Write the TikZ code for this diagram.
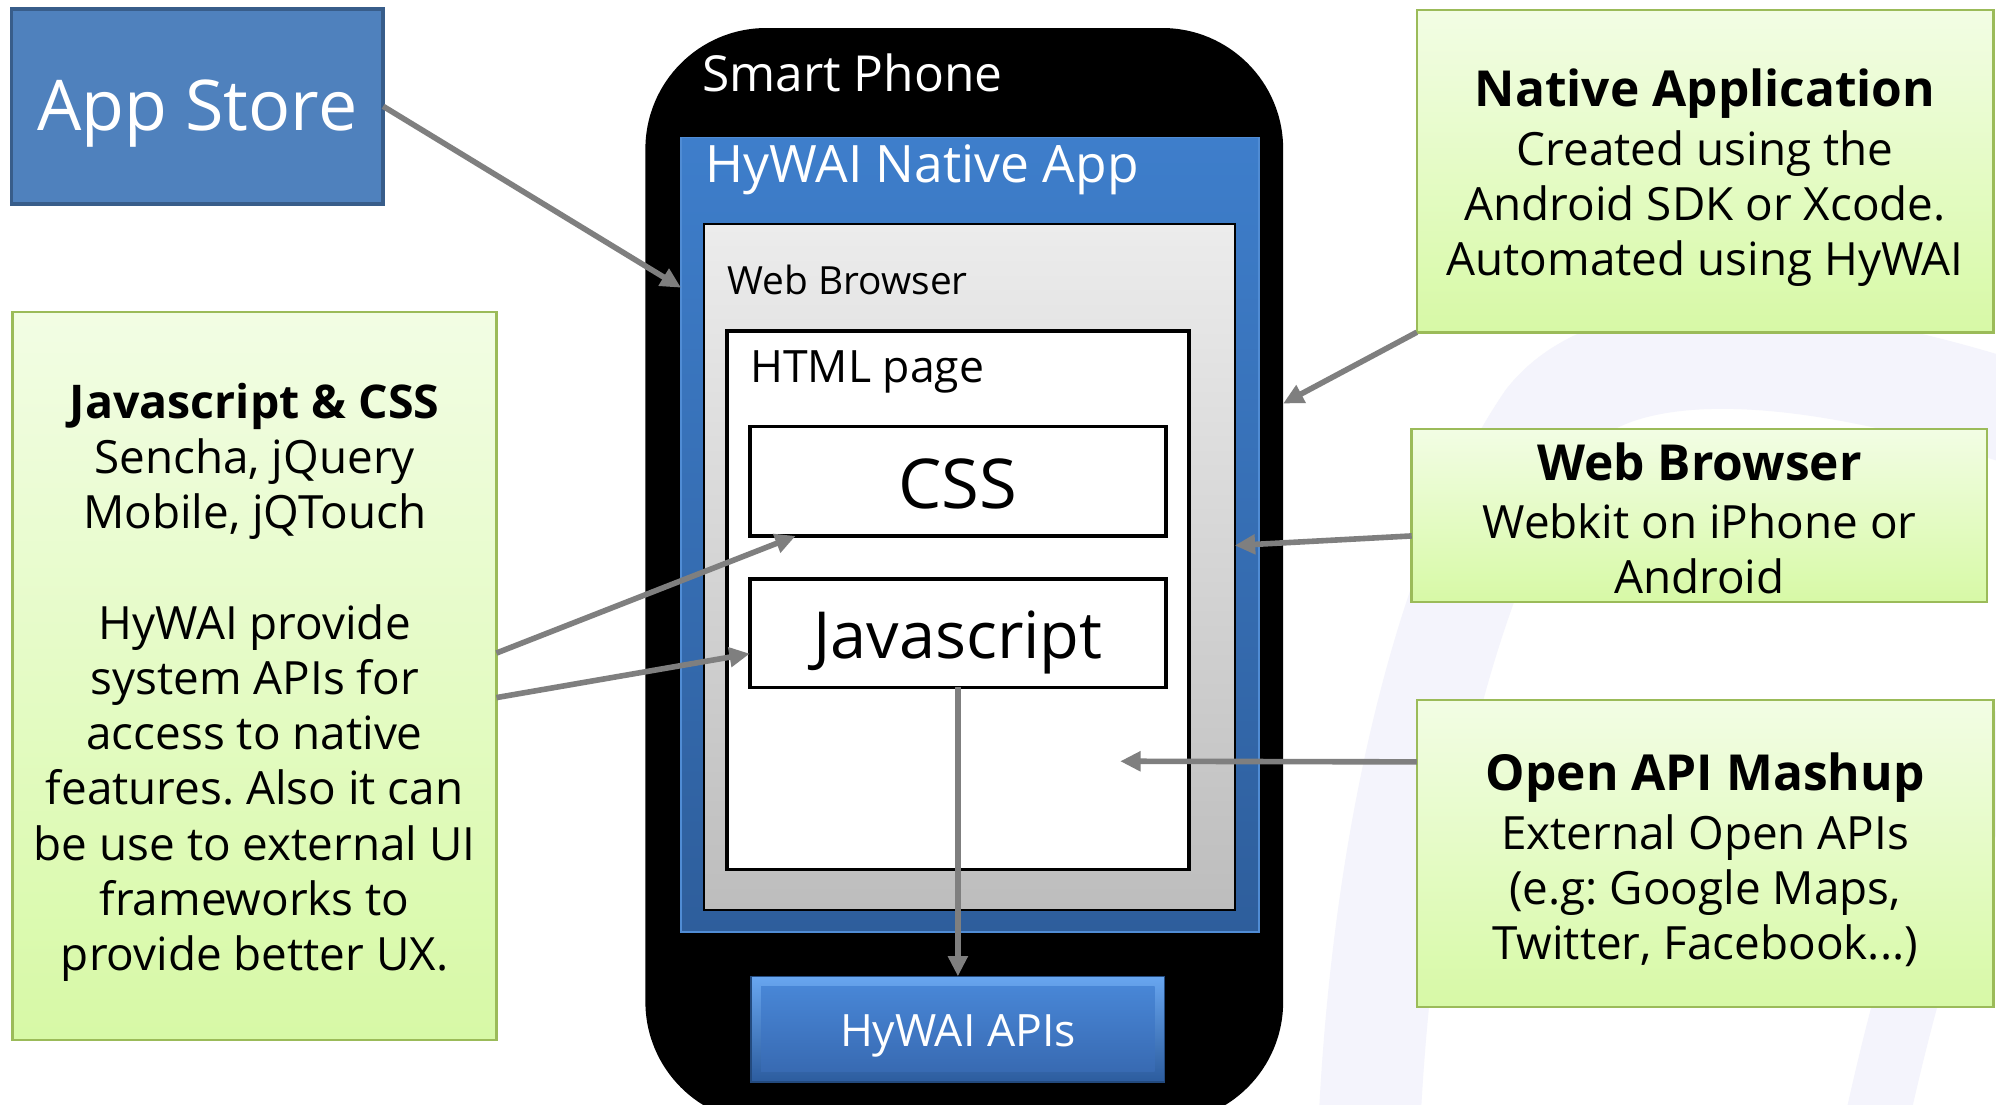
\documentclass[tikz,border=0pt]{standalone}
\usepackage{fontspec}
\setmainfont{Open Sans}
\usetikzlibrary{arrows.meta}
\frenchspacing

\definecolor{storefill}{RGB}{79,129,189}
\definecolor{storeline}{RGB}{56,93,138}
\definecolor{apptop}{RGB}{62,126,203}
\definecolor{appbot}{RGB}{46,94,156}
\definecolor{appline}{RGB}{80,140,212}
\definecolor{greentop}{RGB}{242,253,228}
\definecolor{greenbot}{RGB}{215,249,166}
\definecolor{greenline}{RGB}{155,187,89}
\definecolor{browsertop}{RGB}{236,236,236}
\definecolor{browserbot}{RGB}{189,189,189}
\definecolor{arrowgray}{RGB}{127,127,127}
\definecolor{wmark}{RGB}{244,244,252}
\definecolor{apitop}{RGB}{104,166,240}
\definecolor{apibot}{RGB}{44,92,158}
\definecolor{apiinnertop}{RGB}{72,134,214}
\definecolor{apiinnerbot}{RGB}{56,106,178}

\tikzset{
  box/.style={anchor=north west, inner sep=0pt, outer sep=0pt},
  greenbox/.style={box, top color=greentop, bottom color=greenbot,
    draw=greenline, line width=2pt},
  notes/.style={align=center, inner sep=0pt, font=\fontsize{36}{43.4}\selectfont},
  whitebox/.style={box, fill=white, draw=black, line width=3pt},
  link/.style={draw=arrowgray, line width=4.4pt,
    -{Triangle[length=16pt,width=15pt]}},
  wm/.style={draw=wmark, line cap=round},
}

\begin{document}
\begin{tikzpicture}[x=1pt,y=-1pt]
\useasboundingbox[fill=white] (0,0) rectangle (1568,868);

% faint background logo
\draw[wm, line width=80pt] (1600,330) .. controls (1420,270) and (1270,260) .. (1215,330)
  .. controls (1140,440) and (1085,650) .. (1075,900);
\draw[wm, line width=50pt] (1600,560) .. controls (1540,620) and (1500,760) .. (1470,900);

% App Store
\node[box, fill=storefill, draw=storeline, line width=3pt,
      minimum width=292pt, minimum height=153pt] (store) at (9,7) {};
\node[text=white, font=\fontsize{55}{60}\selectfont, inner sep=0pt]
      (storelabel) at ([yshift=-6pt]store.center) {App Store};

% phone body
\node[box, fill=black, rounded corners=95pt,
      minimum width=501pt, minimum height=860pt] (phone) at (507,22) {};
\node[anchor=west, text=white, font=\fontsize{39}{44}\selectfont] (phonelabel) at (548,57) {Smart Phone};

% native app container
\node[box, top color=apptop, bottom color=appbot, draw=appline, line width=1.5pt,
      minimum width=454pt, minimum height=624pt] (native) at (535,108) {};
\node[anchor=west, text=white, font=\fontsize{40.5}{45}\selectfont] (nativelabel) at (551,133) {HyWAI Native App};

% web browser
\node[box, top color=browsertop, bottom color=browserbot, draw=black, line width=2pt,
      minimum width=417pt, minimum height=539pt] (browser) at (553,176) {};
\node[anchor=west, font=\fontsize{30.5}{36}\selectfont] (browserlabel) at (568,220) {Web Browser};

% html page
\node[whitebox, minimum width=363pt, minimum height=423pt] (html) at (571,260) {};
\node[anchor=west, font=\fontsize{35}{40}\selectfont] (htmllabel) at (586,292) {HTML page};

% css and javascript
\node[whitebox, minimum width=327pt, minimum height=86pt] (css) at (589,335) {};
\node[font=\fontsize{54}{60}\selectfont, inner sep=0pt] (csslabel)
      at ([yshift=-2pt]css.center) {CSS};
\node[whitebox, minimum width=327pt, minimum height=85pt] (js) at (589,455) {};
\node[font=\fontsize{51}{58}\selectfont, inner sep=0pt] (jslabel)
      at ([yshift=-7pt]js.center) {Javascript};

% HyWAI APIs button
\node[box, top color=apitop, bottom color=apibot, draw=apibot!80!black, line width=1pt,
      minimum width=325pt, minimum height=83pt] (apis) at (590,767) {};
\node[box, top color=apiinnertop, bottom color=apiinnerbot,
      minimum width=309pt, minimum height=67pt] (apisface) at (598,775) {};
\node[text=white, font=\fontsize{35}{40}\selectfont, inner sep=0pt] (apislabel)
      at ([yshift=-5pt]apisface.center) {HyWAI APIs};

% explanation boxes
\node[greenbox, minimum width=453pt, minimum height=253pt] (natbox) at (1113,8) {};
\node[notes] (nattext) at ([yshift=-5pt]natbox.center)
  {\textbf{\fontsize{39}{43.4}\selectfont Native Application}\\[3pt]
   Created using the\\ Android SDK or Xcode.\\ Automated using HyWAI};
\node[greenbox, minimum width=452pt, minimum height=136pt] (webbox) at (1109,337) {};
\node[notes] (webtext) at ([yshift=-2pt]webbox.center)
  {\textbf{\fontsize{39}{43.4}\selectfont Web Browser}\\[2pt]
   Webkit on iPhone or\\ Android};
\node[greenbox, minimum width=453pt, minimum height=241pt] (apibox) at (1113,550) {};
\node[notes] (apitext) at ([yshift=-5pt]apibox.center)
  {\textbf{\fontsize{39}{43.4}\selectfont Open API Mashup}\\[3pt]
   External Open APIs\\ (e.g: Google Maps,\\ Twitter, Facebook...)};
\node[greenbox, minimum width=380pt, minimum height=572pt] (jsbox) at (10,245) {};
\node[notes] (jstext) at ([yshift=-5pt]jsbox.center)
  {\textbf{\fontsize{36.5}{43.4}\selectfont Javascript \& CSS}\\
   Sencha, jQuery\\ Mobile, jQTouch\\[43.4pt]
   HyWAI provide\\ system APIs for\\ access to native\\ features. Also it can\\
   be use to external UI\\ frameworks to\\ provide better UX.};

\coordinate (mashupend) at (880,598);

% connectors
\draw[link] (store.east) -- ([yshift=194pt]native.west);
\draw[link] (natbox.south west) -- ([yshift=135pt]phone.east);
\draw[link] ([yshift=-16pt]webbox.west) -- ([yshift=17pt]browser.east);
\draw[link] ([yshift=72pt]apibox.west) -- (mashupend);
\draw[link] ([yshift=18pt]jsbox.east) -- ([xshift=36pt]css.south west);
\draw[link] ([yshift=-17pt]jsbox.east) -- ([yshift=-16pt]js.west);
\draw[link] (js.south) -- (apis.north);
\end{tikzpicture}
\end{document}
